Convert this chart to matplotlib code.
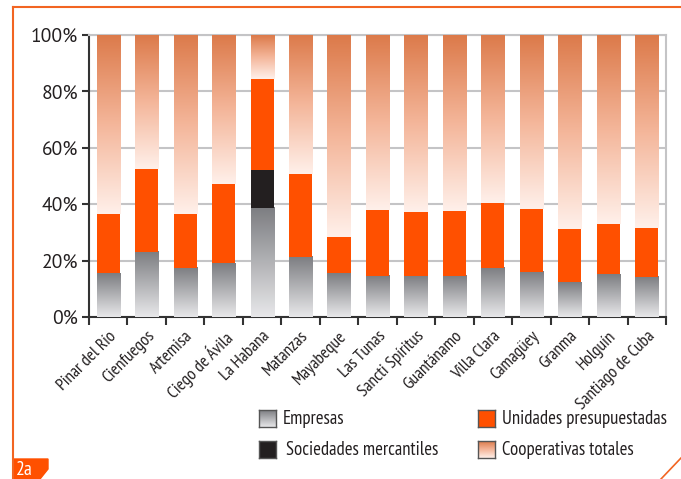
import numpy as np
import matplotlib
matplotlib.use("Agg")
import matplotlib.pyplot as plt
from matplotlib.colors import LinearSegmentedColormap
from matplotlib.lines import Line2D
from matplotlib.patches import Polygon, Rectangle
from matplotlib.transforms import ScaledTranslation

provincias = ["Pinar del Río", "Cienfuegos", "Artemisa", "Ciego de Ávila", "La Habana",
              "Matanzas", "Mayabeque", "Las Tunas", "Sancti Spíritus", "Guantánamo",
              "Villa Clara", "Camagüey", "Granma", "Holguín", "Santiago de Cuba"]
empresas = [15.6, 23.2, 17.5, 19.1, 38.7, 21.3, 15.6, 14.7, 14.7, 14.7, 17.4, 16.0, 12.4, 15.2, 14.2]
sociedades = [0, 0, 0, 0, 13.4, 0, 0, 0, 0, 0, 0, 0, 0, 0, 0]
unidades = [20.9, 29.3, 19.0, 28.1, 32.3, 29.4, 12.8, 23.2, 22.5, 22.9, 23.0, 22.3, 18.8, 17.8, 17.4]
cooperativas = [100 - e - s - u for e, s, u in zip(empresas, sociedades, unidades)]

naranja = "#ff5000"
negro = "#231f20"
borde = "#f26522"
gris_cmap = LinearSegmentedColormap.from_list("gris", ["#e8e8ea", "#7c7d81"])
coop_cmap = LinearSegmentedColormap.from_list("coop", ["#fff0ea", "#f4b69a", "#dc7a4a"])

narrow = ["PT Sans Narrow", "Roboto Condensed", "DejaVu Sans"]
regular = ["PT Sans", "Open Sans", "DejaVu Sans"]

fig = plt.figure(figsize=(6.81, 4.79), dpi=100)
ax = fig.add_axes([89 / 681, 1 - 317 / 479, 577 / 681, 282 / 479])

grad = np.linspace(0, 1, 256).reshape(-1, 1)
w = 0.6
x = np.arange(len(provincias))


def barra_grad(x0, y0, y1, cmap):
    ax.imshow(grad, cmap=cmap, origin="lower", aspect="auto",
              extent=(x0 - w / 2, x0 + w / 2, y0, y1), zorder=3, interpolation="bilinear")


for i in range(len(provincias)):
    base = 0
    barra_grad(x[i], base, base + empresas[i], gris_cmap)
    base += empresas[i]
    if sociedades[i] > 0:
        ax.bar(x[i], sociedades[i], w, bottom=base, color=negro, zorder=3)
        base += sociedades[i]
    ax.bar(x[i], unidades[i], w, bottom=base, color=naranja, zorder=3)
    base += unidades[i]
    barra_grad(x[i], base, base + cooperativas[i], coop_cmap)

ax.set_xlim(-0.5, len(provincias) - 0.5)
ax.set_ylim(0, 100)
ax.set_yticks(range(0, 101, 20))
ax.set_yticklabels([f"{v}%" for v in range(0, 101, 20)], fontsize=14, color=negro,
                   family=regular)
ax.yaxis.grid(True, color="#c4c4c6", lw=1.5, zorder=1)

ax.set_xticks(np.arange(-0.5, len(provincias)), minor=False)
ax.set_xticklabels([])
ax.set_xticks(x, minor=True)
ax.set_xticklabels(provincias, minor=True, rotation=45, ha="right", va="top",
                   rotation_mode="anchor", fontsize=12.5, family=narrow, color=negro)
# desplazar un poco las etiquetas hacia la derecha
for lbl in ax.get_xticklabels(minor=True):
    lbl.set_transform(lbl.get_transform() + ScaledTranslation(5 / 100, 0, fig.dpi_scale_trans))
ax.tick_params(axis="x", which="major", length=6, width=1.5, color="#333333")
ax.tick_params(axis="x", which="minor", length=0, pad=8)
ax.tick_params(axis="y", length=5, width=1.5, color="#333333", pad=3)

for s in ["left", "bottom"]:
    ax.spines[s].set_color("#333333")
    ax.spines[s].set_linewidth(1.5)
for s in ["top", "right"]:
    ax.spines[s].set_color("#c4c4c6")
    ax.spines[s].set_linewidth(1.5)

# leyenda con cuadros de degradado
leyenda = [("Empresas", gris_cmap, 259, 410, 283),
           ("Sociedades mercantiles", negro, 259, 441, 286),
           ("Unidades presupuestadas", naranja, 478, 410, 502),
           ("Cooperativas totales", coop_cmap, 478, 441, 502)]
for texto, c, px, py, tx in leyenda:
    lax = fig.add_axes([px / 681, 1 - (py + 17) / 479, 17 / 681, 17 / 479])
    if isinstance(c, str):
        lax.add_patch(Rectangle((0, 0), 1, 1, color=c))
    else:
        lax.imshow(grad, cmap=c, origin="lower", aspect="auto", extent=(0, 1, 0, 1))
    lax.set_xlim(0, 1)
    lax.set_ylim(0, 1)
    lax.set_xticks([])
    lax.set_yticks([])
    for sp in lax.spines.values():
        sp.set_color("#555555")
        sp.set_linewidth(1)
    fig.text(tx / 681, 1 - (py + 9) / 479, texto, fontsize=13.5, family=narrow,
             color=negro, va="center", ha="left")

# marco naranja
fig.add_artist(Line2D([13 / 681, 1], [1 - 7 / 479, 1 - 7 / 479], color=borde, lw=1.5))
fig.add_artist(Line2D([13 / 681, 13 / 681], [1 - 7 / 479, 0], color=borde, lw=1.5))
fig.add_artist(Line2D([661 / 681, 1], [0, 21 / 479], color=borde, lw=1.2))
etiqueta = Polygon([(13 / 681, 20 / 479), (48 / 681, 20 / 479), (48 / 681, 10 / 479),
                    (40 / 681, 0), (13 / 681, 0)], closed=True, color=naranja,
                   transform=fig.transFigure)
fig.add_artist(etiqueta)
fig.text(16 / 681, 9 / 479, "2a", color="white", fontsize=14, family=narrow,
         va="center", ha="left")

fig.savefig("out.png", dpi=100)
